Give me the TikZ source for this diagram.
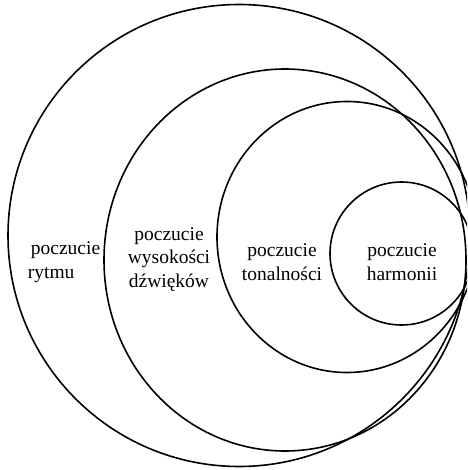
\documentclass[tikz,border=0pt]{standalone}
\usepackage{fontspec}
\setmainfont{Liberation Serif}
\begin{document}
\begin{tikzpicture}[x=1pt,y=-1pt,
  ring/.style={draw=black,line width=1.6pt},
  lbl/.style={font=\fontsize{19.5}{23.5}\selectfont,align=center,inner sep=0pt}]
\useasboundingbox (0,0) rectangle (467,470);
\fill[white] (0,0) rectangle (467,470);
\begin{scope}
\clip (0,0) rectangle (467,470);
\draw[ring] (239,235.5) circle (231);
\draw[ring] (285,260) ellipse [x radius=181, y radius=191];
\draw[ring] (347,237) ellipse [x radius=130, y radius=135.5];
\draw[ring] (401.5,253.5) circle (71.5);
\end{scope}
\node[lbl,align=left] (r1) at (64,262) {\hspace*{3pt}poczucie\\rytmu};
\node[lbl] (r2) at (169,259) {poczucie\\wysokości\\dźwięków};
\node[lbl] (r3) at (282,262) {poczucie\\tonalności};
\node[lbl] (r4) at (402,262) {poczucie\\harmonii};
\end{tikzpicture}
\end{document}
